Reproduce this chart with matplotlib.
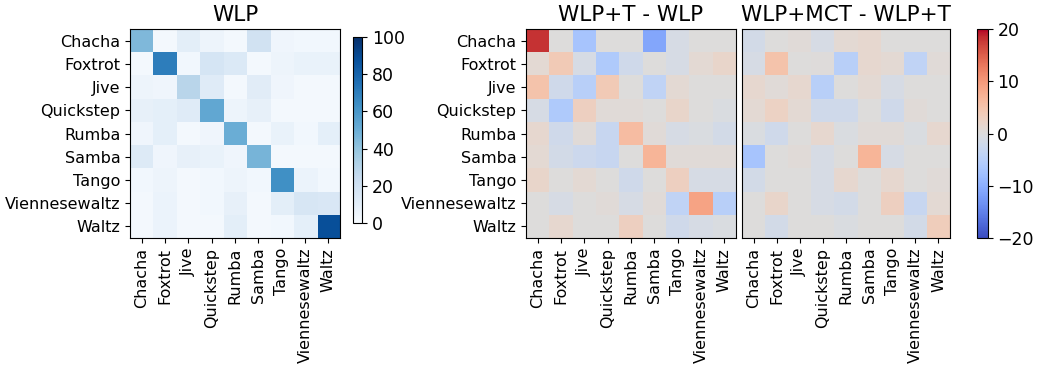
import numpy as np
import matplotlib
matplotlib.use("Agg")
import matplotlib.pyplot as plt

# classi
danze = ["Chacha", "Foxtrot", "Jive", "Quickstep", "Rumba", "Samba",
         "Tango", "Viennesewaltz", "Waltz"]

# matrice di confusione WLP (%)
wlp = np.array([
    [45, 2, 10, 5, 2, 19, 4, 3, 3],
    [2, 70, 3, 17, 14, 2, 5, 7, 7],
    [5, 4, 29, 12, 2, 11, 4, 2, 2],
    [8, 9, 12, 53, 5, 8, 2, 2, 2],
    [4, 9, 2, 4, 50, 2, 7, 3, 9],
    [13, 4, 8, 7, 4, 47, 2, 2, 2],
    [3, 5, 2, 3, 5, 3, 63, 6, 3],
    [2, 6, 2, 3, 8, 2, 10, 16, 15],
    [2, 6, 2, 2, 10, 2, 3, 9, 88],
])

# differenza WLP+T - WLP
diff_t = np.array([
    [18, 0, -7, 0, 0, -11, -1, 0, 0],
    [1, 4, -1, -6, -2, 0, -1, 1, 2],
    [5, -2, -5, 4, 0, -4, 1, 0, 0],
    [-1, -6, 3, 0.5, 0.5, 0, 2, 0, -0.5],
    [1.5, -2, 0.5, -3, 6, 0.5, -1, -0.5, -1.5],
    [1, -1.5, -2.5, -3, 0, 7, 0.5, 0.5, 0.5],
    [2, 0, 1, 0, -2, 0, 3, -1, -1],
    [0, -1, 0, 0.5, -1, 0.5, -4, 9, -5],
    [0, 1.5, 0, 0, 3, 0, -2, -1, -0.5],
])

# differenza WLP+MCT - WLP+T
diff_mct = np.array([
    [-1.5, 0, 0.5, -1, 1, 1.5, 0, 0, 0],
    [-1, 5, 0, 0.3, -5, 1.5, 1, -4, 0.5],
    [1.5, 0.5, 1.5, -5, 0, 1, -1, 0, 0],
    [1, 2.5, 1, -2, -2, 0, -2, 0.5, 0],
    [-0.5, -2, 0, 1.5, -0.5, 0.5, 0.5, -0.5, 1.5],
    [-7, 0, 0.5, -1, 0, 7, -1, 0, 0],
    [-1.5, 0, 0, -1, 1.5, 0, 1.5, 0, 0.5],
    [0, 2, 0, -1, -1.5, 0, 3, -3, 1],
    [0, -1.5, 0, 0, -0.5, 0, 0, -1.5, 3.5],
])

plt.rcParams['font.family'] = ['DejaVu Sans']

fig = plt.figure(figsize=(10.4, 3.69), dpi=100)

ax1 = fig.add_axes([0.125, 0.355, 0.202, 0.566])
cax1 = fig.add_axes([0.3394, 0.3957, 0.0087, 0.504])
ax2 = fig.add_axes([0.5058, 0.355, 0.2019, 0.566])
ax3 = fig.add_axes([0.7135, 0.355, 0.2, 0.566])
cax2 = fig.add_axes([0.939, 0.355, 0.0106, 0.566])

im1 = ax1.imshow(wlp, cmap="Blues", vmin=0, vmax=100, aspect="auto")
im2 = ax2.imshow(diff_t, cmap="coolwarm", vmin=-20, vmax=20, aspect="auto")
im3 = ax3.imshow(diff_mct, cmap="coolwarm", vmin=-20, vmax=20, aspect="auto")

titoli = ["WLP", "WLP+T - WLP", "WLP+MCT - WLP+T"]
for ax, t in zip([ax1, ax2, ax3], titoli):
    ax.set_title(t, fontsize=15.5)
    ax.set_xticks(range(len(danze)))
    ax.set_xticklabels(danze, rotation=90, fontsize=11.5)
    ax.set_yticks(range(len(danze)))
    ax.set_yticklabels(danze, fontsize=11.5)

ax3.set_yticks([])

cb1 = fig.colorbar(im1, cax=cax1, ticks=[0, 20, 40, 60, 80, 100])
cb1.ax.tick_params(labelsize=12.5)
cb2 = fig.colorbar(im2, cax=cax2, ticks=[-20, -10, 0, 10, 20])
cb2.ax.tick_params(labelsize=12.5)

fig.savefig("out.png", dpi=100)
